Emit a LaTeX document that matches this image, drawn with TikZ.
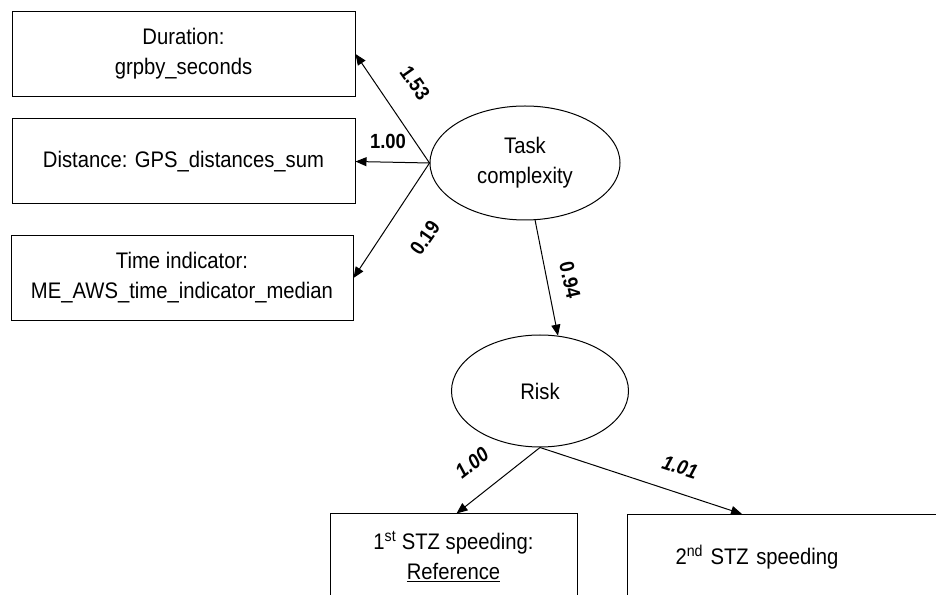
\documentclass[tikz,border=0pt]{standalone}
\usepackage{fontspec}
\setmainfont{Liberation Sans}[FakeStretch=0.9]
\usetikzlibrary{shapes.geometric, arrows.meta, positioning, calc}
\tikzset{
  obsbox/.style={rectangle, draw, line width=1pt, minimum width=343pt, minimum height=85pt, inner sep=0pt, align=center, font=\fontsize{22.5}{30}\selectfont},
  latent/.style={ellipse, draw, line width=1pt, inner sep=0pt, align=center, font=\fontsize{22.5}{30}\selectfont},
  path/.style={-{Triangle[length=11pt, width=9pt]}, line width=1pt},
  coef/.style={font=\fontsize{20.5}{24}\selectfont\bfseries},
  icoef/.style={font=\fontsize{20.5}{24}\selectfont\bfseries\itshape},
}
\begin{document}
\begin{tikzpicture}[x=1pt, y=1pt]
  \path[use as bounding box, fill=white] (0,0) rectangle (936,594);
  \clip (0,0) rectangle (936,594);

  % Indicators of task complexity
  \node[obsbox] (dur) at (183.5, 540) {Duration:\\ grpby\_seconds};
  \node[obsbox] (dist) at (183.5, 432.5) {Distance: GPS\_distances\_sum};
  \node[obsbox, minimum width=342pt] (time) at (182, 316) {Time indicator:\\ ME\_AWS\_time\_indicator\_median};

  % Latent variables
  \node[latent, minimum width=190pt, minimum height=114pt] (task) at (525, 431) {Task\\ complexity};
  \node[latent, minimum width=177pt, minimum height=112pt] (risk) at (540, 203) {Risk};

  % Indicators of risk (cut off at the bottom)
  \node[obsbox, minimum width=247pt] (stz1) at (453.5, 37.5) {1\textsuperscript{st} STZ speeding:\\ \underline{Reference}};
  \node[obsbox, anchor=north west, minimum width=0pt, text width=260pt, align=left, inner xsep=48pt] (stz2) at (627, 80) {2\textsuperscript{nd} STZ speeding};

  % Loadings
  \draw[path] (task.west) -- (dur.east);
  \draw[path] (task.west) -- (dist.east);
  \draw[path] (task.west) -- (time.east);
  \draw[path] (task.280) -- (risk.72);
  \draw[path] (risk.south) -- ($(stz1.north)+(3,0)$);
  \draw[path] (risk.south) -- ($(stz2.north west)+(115,0)$);

  % Coefficients
  \node[coef, rotate=-55] (c1) at (415, 511) {1.53};
  \node[coef] (c2) at (388, 453) {1.00};
  \node[coef, rotate=55] (c3) at (425, 356) {0.19};
  \node[coef, rotate=-77.5] (c4) at (570, 314) {0.94};
  \node[icoef, rotate=38] (c5) at (472, 131) {1.00};
  \node[icoef, rotate=-18] (c6) at (680, 127) {1.01};
\end{tikzpicture}
\end{document}
